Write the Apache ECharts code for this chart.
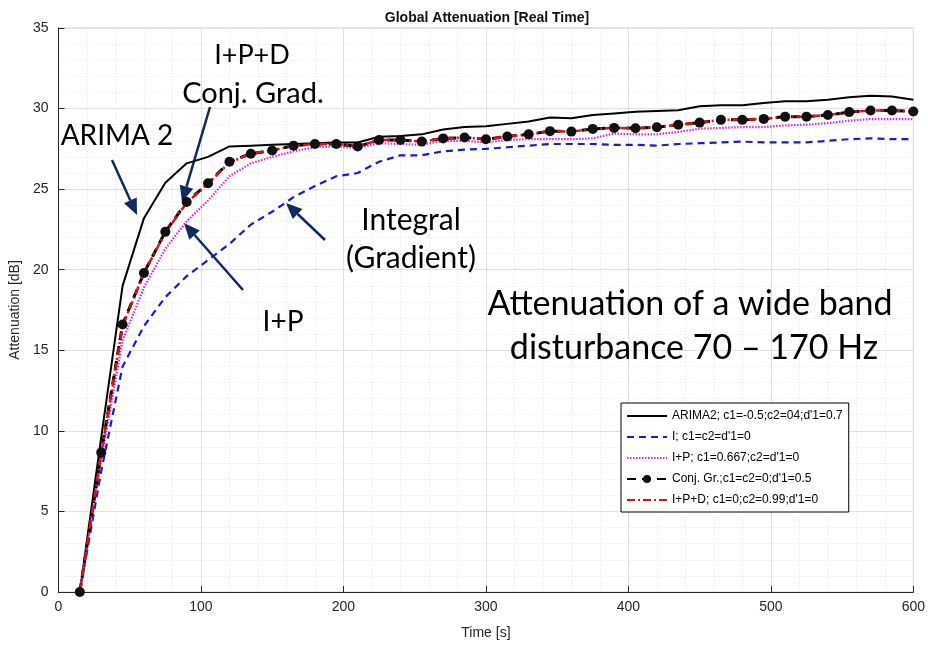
<!DOCTYPE html>
<html><head><meta charset="utf-8">
<script src="https://cdn.jsdelivr.net/npm/echarts@6/dist/echarts.min.js"></script>
<style>html,body{margin:0;padding:0;background:#fff}#c{width:928px;height:647px}</style>
</head><body><div id="c"></div>
<script>
const times = [15,30,45,60,75,90,105,120,135,150,165,180,195,210,225,240,255,270,285,300,315,330,345,360,375,390,405,420,435,450,465,480,495,510,525,540,555,570,585,600];
const arima2 = [0,9.6,19.0,23.2,25.4,26.6,27.0,27.65,27.7,27.75,27.8,27.85,27.9,27.9,28.25,28.3,28.4,28.7,28.85,28.9,29.05,29.2,29.45,29.4,29.6,29.7,29.8,29.85,29.9,30.15,30.2,30.2,30.35,30.45,30.45,30.55,30.7,30.8,30.75,30.55];
const integ = [0,7.5,14.0,16.5,18.3,19.6,20.6,21.6,22.8,23.6,24.5,25.2,25.8,26.0,26.7,27.1,27.1,27.35,27.45,27.5,27.6,27.7,27.8,27.8,27.8,27.75,27.75,27.7,27.8,27.85,27.9,27.95,27.9,27.9,27.9,28.0,28.1,28.15,28.1,28.1];
const ip = [0,8.2,15.6,18.9,21.3,23.0,24.3,25.8,26.6,27.0,27.35,27.6,27.65,27.55,27.85,27.8,27.75,28.0,28.0,27.9,28.05,28.1,28.1,28.1,28.15,28.45,28.4,28.4,28.55,28.75,28.8,28.85,28.85,28.95,29.0,29.1,29.25,29.35,29.35,29.35];
const conjGr = [0,8.65,16.6,19.8,22.35,24.2,25.37,26.7,27.2,27.4,27.7,27.8,27.8,27.65,28.05,28.05,27.95,28.15,28.2,28.1,28.27,28.4,28.6,28.57,28.74,28.8,28.78,28.84,29.0,29.13,29.3,29.3,29.36,29.5,29.5,29.6,29.78,29.88,29.88,29.82];
const ipd = [0,8.6,16.5,19.8,22.3,24.15,25.35,26.65,27.2,27.4,27.7,27.8,27.8,27.65,28.05,28.05,27.95,28.15,28.2,28.1,28.27,28.4,28.6,28.57,28.74,28.8,28.78,28.84,29.0,29.13,29.3,29.3,29.36,29.5,29.5,29.6,29.78,29.88,29.88,29.82];
const names = ["ARIMA2; c1=-0.5;c2=04;d'1=0.7","I; c1=c2=d'1=0","I+P; c1=0.667;c2=d'1=0","Conj. Gr.;c1=c2=0;d'1=0.5","I+P+D; c1=0;c2=0.99;d'1=0"];
const xTicks = [0,100,200,300,400,500,600];
const yTicks = [0,5,10,15,20,25,30,35];

const pair = a => a.map((v,i)=>[times[i],v]);
const tickFont = "'Liberation Sans',Arial,sans-serif";
const chart = echarts.init(document.getElementById('c'));
chart.setOption({
  animation:false,
  title:{text:'Global Attenuation [Real Time]',left:482,textAlign:'center',top:6,
    textStyle:{fontFamily:"'Liberation Sans',Arial,sans-serif",fontWeight:'bold',fontSize:14,color:'#111'}},
  grid:{left:52,right:12,top:28,bottom:55,show:true,borderColor:'#d0d0d0',borderWidth:1},
  legend:{orient:'vertical',left:621,top:403,width:240,padding:[7,6,6,5],itemGap:9,itemWidth:40,itemHeight:10,
    backgroundColor:'#fff',borderColor:'#000',borderWidth:1,
    textStyle:{fontFamily:tickFont,fontSize:12,color:'#000',padding:[0,6,0,0]},
    data:names.map((n,i)=> i===3 ? {name:n} : {name:n,itemStyle:{opacity:0}})},
  xAxis:{type:'value',min:0,max:600,interval:100,
    name:'Time [s]',nameLocation:'middle',nameGap:34,
    nameTextStyle:{fontFamily:tickFont,fontSize:14,color:'#262626'},
    axisLine:{show:true,lineStyle:{color:'#262626',width:1}},
    axisTick:{show:true,inside:true,length:6,lineStyle:{color:'#262626'}},
    axisLabel:{fontFamily:tickFont,fontSize:14,color:'#262626',margin:8,
      formatter:v=>xTicks.includes(v)?String(v):''},
    splitLine:{show:true,lineStyle:{color:'#e0e0e0',width:1}},
    minorTick:{show:true,splitNumber:5,length:0},
    minorSplitLine:{show:true,lineStyle:{color:'#e6e6e6',type:[1,2],width:1}}},
  yAxis:{type:'value',min:0,max:35,interval:5,
    name:'Attenuation [dB]',nameLocation:'middle',nameGap:33,
    nameTextStyle:{fontFamily:tickFont,fontSize:14,color:'#262626'},
    axisLine:{show:true,lineStyle:{color:'#262626',width:1}},
    axisTick:{show:true,inside:true,length:6,lineStyle:{color:'#262626'}},
    axisLabel:{fontFamily:tickFont,fontSize:14,color:'#262626',margin:10,
      formatter:v=>yTicks.includes(v)?String(v):''},
    splitLine:{show:true,lineStyle:{color:'#e0e0e0',width:1}},
    minorTick:{show:true,splitNumber:5,length:0},
    minorSplitLine:{show:true,lineStyle:{color:'#e6e6e6',type:[1,2],width:1}}},
  series:[
    {name:names[0],type:'line',data:pair(arima2),showSymbol:false,symbol:'none',
      lineStyle:{color:'#000',width:2,type:'solid'},itemStyle:{color:'#000'}},
    {name:names[1],type:'line',data:pair(integ),showSymbol:false,symbol:'none',
      lineStyle:{color:'#1a1adf',width:2.2,type:[7,5]},itemStyle:{color:'#1a1adf'}},
    {name:names[2],type:'line',data:pair(ip),showSymbol:false,symbol:'none',
      lineStyle:{color:'#e020e0',width:2.2,type:[1.5,1.5]},itemStyle:{color:'#e020e0'}},
    {name:names[3],type:'line',data:pair(conjGr),symbol:'circle',symbolSize:10,
      lineStyle:{color:'#000',width:3,type:[9,6]},itemStyle:{color:'#111'}},
    {name:names[4],type:'line',data:pair(ipd),showSymbol:false,symbol:'none',
      lineStyle:{color:'#e01010',width:2.5,type:[8,3,2,3]},itemStyle:{color:'#e01010'}}
  ]
});

// annotations (text labels + arrows), positioned in pixels
const annFont = "Lato,'Open Sans',sans-serif";
const navy = '#0e2a5e';
const txt = (x,y,t,s)=>({type:'text',x:x,y:y,style:{text:t,font:`${s}px ${annFont}`,fill:'#000',textAlign:'center',textVerticalAlign:'middle'}});
function arrow(x1,y1,x2,y2){
  const a=Math.atan2(y2-y1,x2-x1), L=16, W=7;
  const bx=x2-L*Math.cos(a), by=y2-L*Math.sin(a);
  const px=-Math.sin(a), py=Math.cos(a);
  return [
    {type:'line',shape:{x1:x1,y1:y1,x2:bx,y2:by},style:{stroke:navy,lineWidth:2.5}},
    {type:'polygon',shape:{points:[[x2,y2],[bx+px*W,by+py*W],[bx-px*W,by-py*W]]},style:{fill:navy}}
  ];
}
chart.setOption({graphic:[
  txt(252,55,'I+P+D',27), txt(253,94,'Conj. Grad.',29), txt(117,136,'ARIMA 2',28),
  txt(411,220,'Integral',30), txt(411,258,'(Gradient)',30), txt(283,322,'I+P',28),
  txt(690,304,'Attenuation of a wide band',34), txt(694,348,'disturbance 70 \u2013 170 Hz',34),
  ...arrow(112,160,137,215), ...arrow(210,107,182,202), ...arrow(243,290,184,223), ...arrow(325,240,286,203)
]});
</script></body></html>
